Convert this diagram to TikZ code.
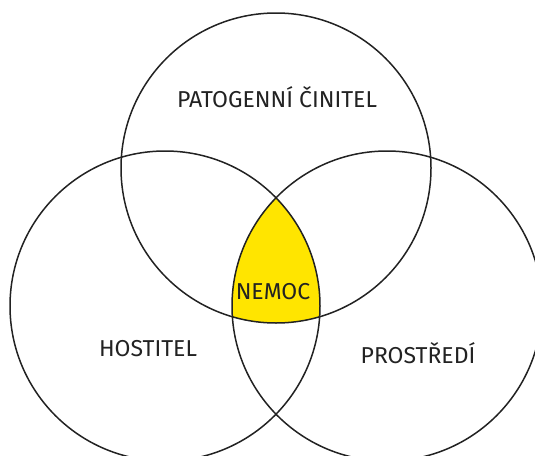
\documentclass[tikz,border=0pt]{standalone}
\usepackage{fontspec}
\setmainfont{Fira Sans}
\definecolor{venninc}{HTML}{222222}
\definecolor{diseasefill}{HTML}{FFE500}
\begin{document}
\begin{tikzpicture}[x=1pt,y=-1pt,
  setline/.style={draw=venninc,line width=1.5pt},
  setlabel/.style={text=venninc,font=\fontsize{23}{27}\selectfont,inner sep=0pt}]
\useasboundingbox (0,0) rectangle (535,455);
\clip (0,0) rectangle (535,455);
% centres of the three sets
\coordinate (cp) at (276,168);
\coordinate (ch) at (165,306);
\coordinate (ce) at (387,306);
% common intersection
\begin{scope}
  \clip (cp) circle[radius=155];
  \clip (ch) circle[radius=155];
  \fill[diseasefill] (ce) circle[radius=155];
\end{scope}
\draw[setline] (cp) circle[radius=155];
\draw[setline] (ch) circle[radius=155];
\draw[setline] (ce) circle[radius=155];
\node[setlabel] (pat) at (277,97) {PATOGENNÍ ČINITEL};
\node[setlabel] (host) at (148,349) {HOSTITEL};
\node[setlabel] (env) at (418,353) {PROSTŘEDÍ};
\node[setlabel] (dis) at (273,292) {NEMOC};
\end{tikzpicture}
\end{document}
